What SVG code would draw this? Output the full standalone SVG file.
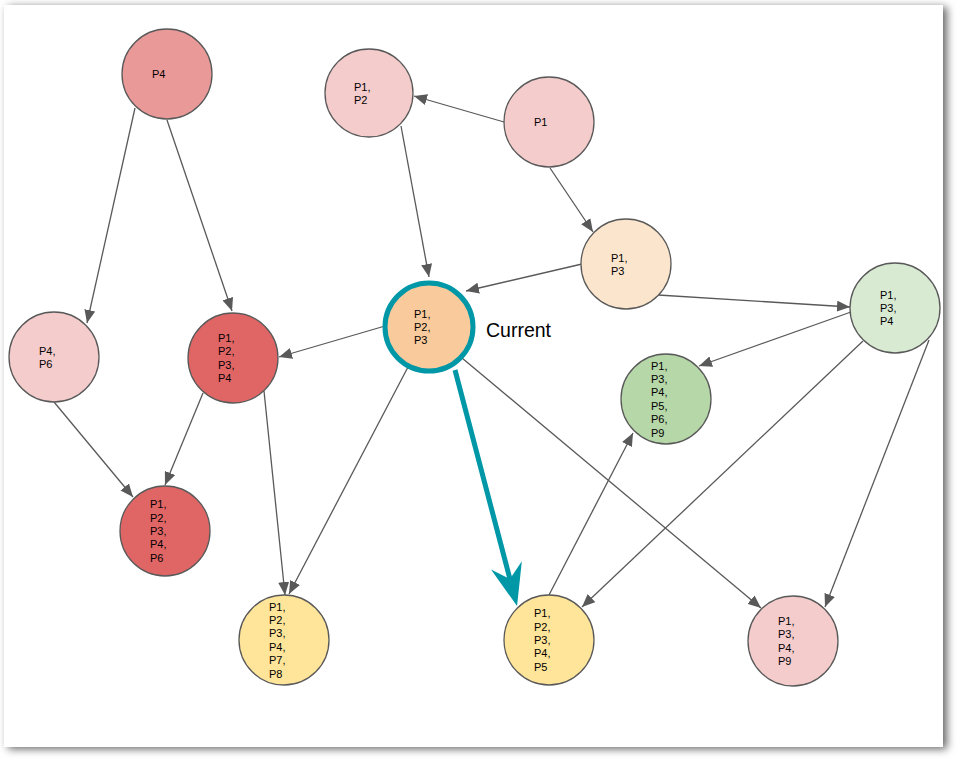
<svg xmlns="http://www.w3.org/2000/svg" width="960" height="760" viewBox="0 0 960 760">
<style>
.n{stroke:#595959;stroke-width:1.3}
.t{font-family:"Liberation Sans",Arial,sans-serif;font-size:11px;fill:#000}
.e{stroke:#595959;stroke-width:1.3;fill:none;marker-end:url(#ah)}
</style>
<defs>
<filter id="sh" x="-5%" y="-5%" width="112%" height="112%">
<feDropShadow dx="4" dy="2" stdDeviation="4.5" flood-color="#000" flood-opacity="0.6"/>
</filter>
<marker id="ah" markerUnits="userSpaceOnUse" viewBox="0 0 13 11" markerWidth="13" markerHeight="11" refX="13" refY="5.5" orient="auto">
<path d="M0,0 L13,5.5 L0,11 z" fill="#595959"/>
</marker>
<marker id="big" markerUnits="userSpaceOnUse" viewBox="0 0 42 32" markerWidth="42" markerHeight="32" refX="32" refY="16" orient="auto">
<path d="M0,0 L42,16 L0,32 L14,16 z" fill="#0097A7"/>
</marker>
</defs>
<rect x="0" y="0" width="960" height="760" fill="#fff"/>
<rect x="4" y="5" width="939" height="742" fill="#fff" filter="url(#sh)"/>
<g id="connectors">
<line class="e" x1="504" y1="122" x2="414" y2="96"/>
<line class="e" x1="550" y1="168" x2="593" y2="232"/>
<line class="e" x1="401" y1="126" x2="429" y2="277"/>
<line class="e" x1="582" y1="264" x2="466" y2="291"/>
<line class="e" x1="135" y1="108" x2="87" y2="323"/>
<line class="e" x1="167" y1="120" x2="232" y2="311"/>
<line class="e" x1="385" y1="326" x2="279" y2="357"/>
<line class="e" x1="203" y1="393" x2="165" y2="485"/>
<line class="e" x1="54" y1="402" x2="133" y2="497"/>
<line class="e" x1="264" y1="391" x2="285" y2="595"/>
<line class="e" x1="408" y1="367" x2="289" y2="594"/>
<line class="e" x1="462" y1="358" x2="761" y2="608"/>
<line class="e" x1="658" y1="295" x2="850" y2="307"/>
<line class="e" x1="851" y1="312" x2="699" y2="366"/>
<line class="e" x1="863" y1="341" x2="582" y2="607"/>
<line class="e" x1="929" y1="340" x2="825" y2="607"/>
<line class="e" x1="549" y1="595" x2="633" y2="433"/>
<line x1="455" y1="370" x2="514.5" y2="596.3" stroke="#0097A7" stroke-width="5" marker-end="url(#big)"/>
</g>
<g id="n-p4">
<circle class="n" cx="167" cy="74" r="45" fill="#EA9999"/>
<text class="t" x="152" y="78">P4</text>
</g>
<g id="n-p1p2">
<circle class="n" cx="369" cy="93" r="44" fill="#F4CCCC"/>
<text class="t"><tspan x="354" y="90.5">P1,</tspan><tspan x="354" y="104">P2</tspan></text>
</g>
<g id="n-p1">
<circle class="n" cx="549" cy="122" r="45" fill="#F4CCCC"/>
<text class="t" x="534" y="126">P1</text>
</g>
<g id="n-p1p3">
<circle class="n" cx="626" cy="264" r="45" fill="#FCE5CD"/>
<text class="t"><tspan x="611" y="261.5">P1,</tspan><tspan x="611" y="275">P3</tspan></text>
</g>
<g id="n-current">
<circle cx="429" cy="327" r="44" fill="#F9CB9C" stroke="#0097A7" stroke-width="5"/>
<text class="t"><tspan x="414" y="317.6">P1,</tspan><tspan x="414" y="331">P2,</tspan><tspan x="414" y="344.4">P3</tspan></text>
<text x="486" y="337" font-family="Liberation Sans,Arial,sans-serif" font-size="19.5" fill="#000">Current</text>
</g>
<g id="n-p46">
<circle class="n" cx="54" cy="357" r="45" fill="#F4CCCC"/>
<text class="t"><tspan x="39" y="354.5">P4,</tspan><tspan x="39" y="368">P6</tspan></text>
</g>
<g id="n-r4">
<circle class="n" cx="233" cy="358" r="45" fill="#E06666"/>
<text class="t"><tspan x="218" y="341.9">P1,</tspan><tspan x="218" y="355.3">P2,</tspan><tspan x="218" y="368.7">P3,</tspan><tspan x="218" y="382.1">P4</tspan></text>
</g>
<g id="n-r6">
<circle class="n" cx="165" cy="531" r="45" fill="#E06666"/>
<text class="t"><tspan x="150" y="508.2">P1,</tspan><tspan x="150" y="521.6">P2,</tspan><tspan x="150" y="535">P3,</tspan><tspan x="150" y="548.4">P4,</tspan><tspan x="150" y="561.8">P6</tspan></text>
</g>
<g id="n-y8">
<circle class="n" cx="284" cy="640" r="45" fill="#FFE599"/>
<text class="t"><tspan x="269" y="610.5">P1,</tspan><tspan x="269" y="623.9">P2,</tspan><tspan x="269" y="637.3">P3,</tspan><tspan x="269" y="650.7">P4,</tspan><tspan x="269" y="664.1">P7,</tspan><tspan x="269" y="677.5">P8</tspan></text>
</g>
<g id="n-y5">
<circle class="n" cx="549" cy="640" r="45" fill="#FFE599"/>
<text class="t"><tspan x="534" y="617.2">P1,</tspan><tspan x="534" y="630.6">P2,</tspan><tspan x="534" y="644">P3,</tspan><tspan x="534" y="657.4">P4,</tspan><tspan x="534" y="670.8">P5</tspan></text>
</g>
<g id="n-g9">
<circle class="n" cx="666" cy="399" r="45" fill="#B6D7A8"/>
<text class="t"><tspan x="651" y="369.5">P1,</tspan><tspan x="651" y="382.9">P3,</tspan><tspan x="651" y="396.3">P4,</tspan><tspan x="651" y="409.7">P5,</tspan><tspan x="651" y="423.1">P6,</tspan><tspan x="651" y="436.5">P9</tspan></text>
</g>
<g id="n-lg">
<circle class="n" cx="895" cy="308" r="45" fill="#D9EAD3"/>
<text class="t"><tspan x="880" y="298.6">P1,</tspan><tspan x="880" y="312">P3,</tspan><tspan x="880" y="325.4">P4</tspan></text>
</g>
<g id="n-k9">
<circle class="n" cx="793" cy="641" r="45" fill="#F4CCCC"/>
<text class="t"><tspan x="778" y="624.9">P1,</tspan><tspan x="778" y="638.3">P3,</tspan><tspan x="778" y="651.7">P4,</tspan><tspan x="778" y="665.1">P9</tspan></text>
</g>
</svg>
